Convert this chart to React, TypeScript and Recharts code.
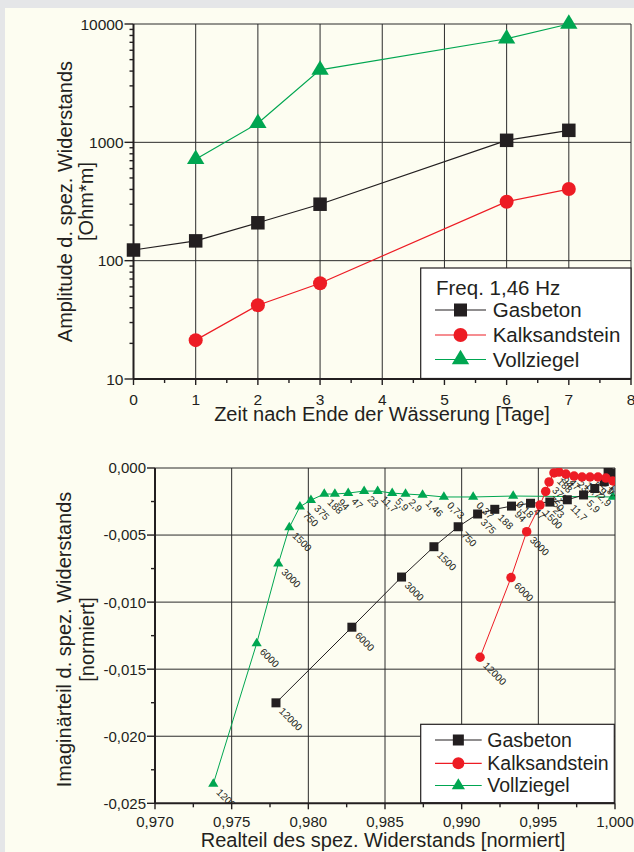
import React from 'react';
import { LineChart, Line, XAxis, YAxis, ReferenceLine, ScatterChart, Scatter, Customized } from 'recharts';

const FONT = '"Liberation Sans", Arial, Helvetica, sans-serif';
const INK = '#231f20';
const BLACK = '#231f20';
const RED = '#ed1c24';
const GREEN = '#00a651';
const GRID = '#2b2b2b';

// ---------- top chart: amplitude vs. days ----------
const days = [0, 1, 2, 3, 6, 7];
const gasbetonAmplitude = [123, 147, 209, 300, 1040, 1263];
const kalksandsteinAmplitude = [null, 21.3, 42, 64.5, 315, 403];
const vollziegelAmplitude = [null, 720, 1450, 4100, 7500, 10000];

const dayMajorTicks = [0, 1, 2, 3, 4, 5, 6, 7, 8];
const dayMinorTicks = [0.5, 1.5, 2.5, 3.5, 4.5, 5.5, 6.5, 7.5];
const dayGridLines = [1, 2, 3, 4, 5, 6, 7, 8];
const ampMajorTicks = [10, 100, 1000, 10000];
const ampMinorTicks = [20, 30, 40, 50, 60, 70, 80, 90, 200, 300, 400, 500, 600, 700, 800, 900, 2000, 3000, 4000, 5000, 6000, 7000, 8000, 9000];
const ampGridLines = [100, 1000, 10000];

const topLegendTitle = 'Freq. 1,46 Hz';
const topXTitle = 'Zeit nach Ende der Wässerung [Tage]';
const topYTitle = ['Amplitude d. spez. Widerstands', '[Ohm*m]'];

// ---------- bottom chart: real vs. imaginary ----------
const freqLabels = ['12000', '6000', '3000', '1500', '750', '375', '188', '94', '47', '23', '11,7', '5,9', '2,9', '1,46', '0,73', '0,37', '0,18', '0,09'];

const gasbetonRe = [0.97789, 0.98284, 0.98608, 0.98819, 0.98977, 0.99104, 0.99216, 0.99325, 0.99449, 0.99575, 0.99689, 0.99795, 0.99868, 0.9993, 0.99955, 0.99984];
const gasbetonIm = [-0.01751, -0.01187, -0.00813, -0.00587, -0.00438, -0.00343, -0.00308, -0.00284, -0.00263, -0.00254, -0.00237, -0.00201, -0.00153, -0.00101, -0.00013, -0.00037];

const kalksandsteinRe = [0.9912, 0.99322, 0.99424, 0.99511, 0.99548, 0.9957, 0.99602, 0.99635, 0.9968, 0.99733, 0.99785, 0.99837, 0.99889, 0.99941, 0.99987];
const kalksandsteinIm = [-0.01411, -0.00817, -0.00475, -0.00276, -0.00175, -0.00104, -0.00037, -0.0003, -0.00045, -0.0006, -0.00067, -0.00067, -0.00067, -0.00075, -0.00097];

const vollziegelRe = [0.9738, 0.97663, 0.97804, 0.97876, 0.97945, 0.98017, 0.98104, 0.98173, 0.9826, 0.98364, 0.98452, 0.98547, 0.98634, 0.98745, 0.98884, 0.99075, 0.99336, 0.99986];
const vollziegelIm = [-0.02356, -0.01308, -0.00714, -0.00443, -0.00289, -0.00239, -0.00194, -0.00194, -0.00187, -0.00172, -0.00172, -0.00187, -0.00194, -0.00201, -0.00216, -0.00216, -0.00209, -0.00216];

const reMajorTicks = [0.97, 0.975, 0.98, 0.985, 0.99, 0.995, 1.0];
const reMinorTicks = [0.9725, 0.9775, 0.9825, 0.9875, 0.9925, 0.9975];
const reGridLines = [0.975, 0.98, 0.985, 0.99, 0.995, 1.0];
const imMajorTicks = [0, -0.005, -0.01, -0.015, -0.02, -0.025];
const imMinorTicks = [-0.0025, -0.0075, -0.0125, -0.0175, -0.0225];
const imGridLines = [0, -0.005, -0.01, -0.015, -0.02];

const bottomXTitle = 'Realteil des spez. Widerstands [normiert]';
const bottomYTitle = ['Imaginärteil d. spez. Widerstands', '[normiert]'];

const seriesNames = ['Gasbeton', 'Kalksandstein', 'Vollziegel'];
const seriesColors = [BLACK, RED, GREEN];
const seriesShapes = ['square', 'circle', 'triangle'];

// ---------- helpers ----------
const isIn = (arr: number[], v: number) => arr.some((a) => Math.abs(a - v) < 1e-9);
const sortNum = (a: number[]) => [...a].sort((p, q) => p - q);
const commaFmt = (v: number) => (Math.abs(v) < 1e-12 ? '0,000' : v.toFixed(3).replace('.', ','));

function Marker({ kind, cx, cy, s, color }: { kind: string; cx: number; cy: number; s: number; color: string }) {
  if (kind === 'square') return <rect x={cx - s / 2} y={cy - s / 2} width={s} height={s} fill={color} />;
  if (kind === 'circle') return <circle cx={cx} cy={cy} r={s / 2} fill={color} />;
  const w = s * 1.2;
  const h = s;
  return <polygon points={`${cx},${cy - (h * 2) / 3} ${cx - w / 2},${cy + h / 3} ${cx + w / 2},${cy + h / 3}`} fill={color} />;
}

function makeLeftTick(majors: number[], fmt: (v: number) => string, fs: number, majorLen: number, minorLen: number, gap: number) {
  return (props: any) => {
    const { x, y, payload } = props;
    const v = Number(payload.value);
    const major = isIn(majors, v);
    return (
      <g>
        <line x1={x - (major ? majorLen : minorLen)} x2={x} y1={y} y2={y} stroke={INK} strokeWidth={1.4} />
        {major ? (
          <text x={x - gap} y={y} dy="0.36em" textAnchor="end" fontSize={fs} fontFamily={FONT} fill={INK}>
            {fmt(v)}
          </text>
        ) : null}
      </g>
    );
  };
}

function makeBottomTick(majors: number[], fmt: (v: number) => string, fs: number, majorLen: number, minorLen: number, baseline: number) {
  return (props: any) => {
    const { x, y, payload } = props;
    const v = Number(payload.value);
    const major = isIn(majors, v);
    return (
      <g>
        <line x1={x} x2={x} y1={y} y2={y + (major ? majorLen : minorLen)} stroke={INK} strokeWidth={1.4} />
        {major ? (
          <text x={x} y={y + baseline} textAnchor="middle" fontSize={fs} fontFamily={FONT} fill={INK}>
            {fmt(v)}
          </text>
        ) : null}
      </g>
    );
  };
}

function makeDot(kind: string, color: string, s: number) {
  return (props: any) => {
    const { cx, cy, index } = props;
    if (cx == null || cy == null || Number.isNaN(cx) || Number.isNaN(cy)) return <g key={`d${index}`} />;
    return <Marker key={`d${index}`} kind={kind} cx={cx} cy={cy} s={s} color={color} />;
  };
}

function makeScatterShape(kind: string, color: string, s: number) {
  return (props: any) => {
    const { cx, cy, payload } = props;
    if (cx == null || cy == null) return <g />;
    const lx = cx + 2.5;
    const ly = cy + 9;
    return (
      <g>
        <Marker kind={kind} cx={cx} cy={cy} s={s} color={color} />
        <text x={lx} y={ly} transform={`rotate(45 ${lx} ${ly})`} fontSize={10} fontFamily={FONT} fill={INK}>
          {payload.label}
        </text>
      </g>
    );
  };
}

function LegendBox(p: {
  x: number; y: number; w: number; h: number; title?: string; titleY?: number; titleX?: number;
  rowsY: number[]; fs: number; lx1: number; lx2: number; tx: number; sizes: number[];
}) {
  return (
    <g>
      <rect x={p.x} y={p.y} width={p.w} height={p.h} fill="#ffffff" stroke={INK} strokeWidth={1.2} />
      {p.title ? (
        <text x={p.titleX} y={p.titleY} fontSize={p.fs} fontFamily={FONT} fill={INK}>
          {p.title}
        </text>
      ) : null}
      {seriesNames.map((name, i) => (
        <g key={name}>
          <line x1={p.lx1} x2={p.lx2} y1={p.rowsY[i]} y2={p.rowsY[i]} stroke={seriesColors[i]} strokeWidth={1.2} />
          <Marker kind={seriesShapes[i]} cx={(p.lx1 + p.lx2) / 2} cy={p.rowsY[i]} s={p.sizes[i]} color={seriesColors[i]} />
          <text x={p.tx} y={p.rowsY[i]} dy="0.35em" fontSize={p.fs} fontFamily={FONT} fill={INK}>
            {name}
          </text>
        </g>
      ))}
    </g>
  );
}

function AxisTitles({ yLines, yCenter, yX, xTitle, xCenter, xBase }: { yLines: string[]; yCenter: number; yX: number[]; xTitle: string; xCenter: number; xBase: number }) {
  return (
    <g>
      {yLines.map((t, i) => (
        <text key={t} x={yX[i]} y={yCenter} transform={`rotate(-90 ${yX[i]} ${yCenter})`} textAnchor="middle" fontSize={20} fontFamily={FONT} fill={INK}>
          {t}
        </text>
      ))}
      <text x={xCenter} y={xBase} textAnchor="middle" fontSize={20} fontFamily={FONT} fill={INK}>
        {xTitle}
      </text>
    </g>
  );
}

const TopDecor = () => (
  <g>
    <AxisTitles yLines={topYTitle} yCenter={201.5} yX={[72, 93]} xTitle={topXTitle} xCenter={382} xBase={421} />
    <LegendBox x={420.7} y={268} w={210.3} h={110.5} title={topLegendTitle} titleX={436} titleY={294.5}
      rowsY={[310, 335, 359.5]} fs={20.5} lx1={435} lx2={486} tx={492.7} sizes={[13, 14, 14.5]} />
  </g>
);

const BottomDecor = () => (
  <g>
    <AxisTitles yLines={bottomYTitle} yCenter={209.5} yX={[70.5, 94]} xTitle={bottomXTitle} xCenter={383} xBase={417} />
    <LegendBox x={420.7} y={294.3} w={193.6} h={78.5} rowsY={[310, 333.3, 355.5]} fs={19.5} lx1={435} lx2={481.7} tx={487.3} sizes={[11, 12, 11]} />
  </g>
);

export default function App() {
  const ampRows = days.map((d, i) => ({
    day: d,
    gas: gasbetonAmplitude[i],
    kalk: kalksandsteinAmplitude[i],
    voll: vollziegelAmplitude[i],
  }));
  const ampKeys = ['gas', 'kalk', 'voll'];

  const toPts = (re: number[], im: number[]) => re.map((x, i) => ({ x, y: im[i], label: freqLabels[i] }));
  const scatterSets = [
    { idx: 2, data: toPts(vollziegelRe, vollziegelIm), s: 8.5 },
    { idx: 0, data: toPts(gasbetonRe, gasbetonIm), s: 9 },
    { idx: 1, data: toPts(kalksandsteinRe, kalksandsteinIm), s: 9.5 },
  ];

  return (
    <div style={{ position: 'absolute', left: 0, top: 0, width: 634, height: 852, background: '#e5e6e8', overflow: 'hidden' }}>
      <div style={{ position: 'absolute', left: 5, top: 8, width: 629, height: 844, background: '#fdfdf1' }} />
      <div style={{ position: 'absolute', left: 0, top: 0 }}>
        <LineChart width={634} height={430} data={ampRows} margin={{ top: 24, right: 3, bottom: 0, left: 0 }}>
          <XAxis
            dataKey="day"
            type="number"
            domain={[0, 8]}
            ticks={sortNum([...dayMajorTicks, ...dayMinorTicks])}
            interval={0}
            tickSize={0}
            tickMargin={0}
            tickLine={false}
            height={51}
            axisLine={{ stroke: INK, strokeWidth: 2 }}
            tick={makeBottomTick(dayMajorTicks, (v) => String(v), 15.5, 6, 4, 26)}
          />
          <YAxis
            type="number"
            scale="log"
            domain={[10, 10000]}
            ticks={sortNum([...ampMajorTicks, ...ampMinorTicks])}
            interval={0}
            tickSize={0}
            tickMargin={0}
            tickLine={false}
            width={133.5}
            axisLine={{ stroke: INK, strokeWidth: 2 }}
            tick={makeLeftTick(ampMajorTicks, (v) => String(v), 15.5, 9, 4, 10)}
          />
          {ampGridLines.map((v) => (
            <ReferenceLine key={`h${v}`} y={v} stroke={GRID} strokeWidth={1} zIndex={-10} />
          ))}
          {dayGridLines.map((v) => (
            <ReferenceLine key={`v${v}`} x={v} stroke={GRID} strokeWidth={1} zIndex={-10} />
          ))}
          {ampKeys.map((k, i) => (
            <Line
              key={k}
              dataKey={k}
              name={seriesNames[i]}
              type="linear"
              stroke={seriesColors[i]}
              strokeWidth={1.2}
              dot={makeDot(seriesShapes[i], seriesColors[i], i === 0 ? 13.5 : i === 1 ? 14 : 14.5)}
              activeDot={false}
              isAnimationActive={false}
            />
          ))}
          <Customized component={TopDecor} />
        </LineChart>
      </div>
      <div style={{ position: 'absolute', left: 0, top: 430 }}>
        <ScatterChart width={634} height={422} margin={{ top: 38, right: 19, bottom: 0, left: 0 }}>
          <XAxis
            dataKey="x"
            type="number"
            domain={[0.97, 1.0]}
            allowDataOverflow
            ticks={sortNum([...reMajorTicks, ...reMinorTicks])}
            interval={0}
            tickSize={0}
            tickMargin={0}
            tickLine={false}
            height={48.7}
            axisLine={{ stroke: INK, strokeWidth: 2 }}
            tick={makeBottomTick(reMajorTicks, commaFmt, 15, 6, 4, 23.5)}
          />
          <YAxis
            dataKey="y"
            type="number"
            domain={[-0.025, 0]}
            allowDataOverflow
            ticks={sortNum([...imMajorTicks, ...imMinorTicks])}
            interval={0}
            tickSize={0}
            tickMargin={0}
            tickLine={false}
            width={155}
            axisLine={{ stroke: INK, strokeWidth: 2 }}
            tick={makeLeftTick(imMajorTicks, commaFmt, 15, 8, 4, 9)}
          />
          {imGridLines.map((v) => (
            <ReferenceLine key={`h${v}`} y={v} stroke={GRID} strokeWidth={1} zIndex={-10} />
          ))}
          {reGridLines.map((v) => (
            <ReferenceLine key={`v${v}`} x={v} stroke={GRID} strokeWidth={1} zIndex={-10} />
          ))}
          {scatterSets.map((set) => (
            <Scatter
              key={seriesNames[set.idx]}
              name={seriesNames[set.idx]}
              data={set.data}
              fill={seriesColors[set.idx]}
              line={{ stroke: seriesColors[set.idx], strokeWidth: 1 }}
              lineType="joint"
              lineJointType="linear"
              shape={makeScatterShape(seriesShapes[set.idx], seriesColors[set.idx], set.s)}
              isAnimationActive={false}
            />
          ))}
          <Customized component={BottomDecor} />
        </ScatterChart>
      </div>
    </div>
  );
}
